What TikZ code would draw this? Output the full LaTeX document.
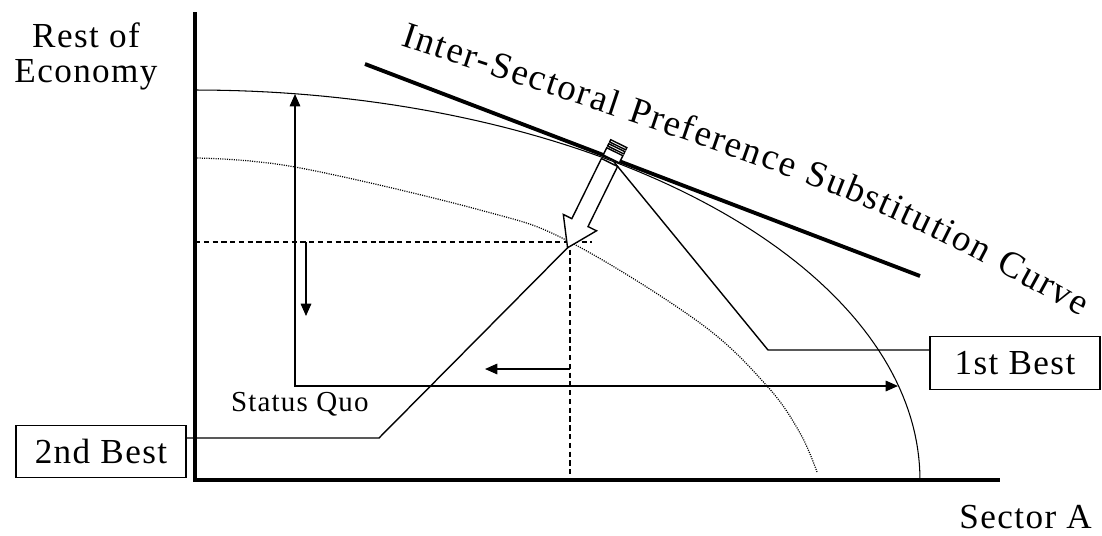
\documentclass[tikz,border=0pt]{standalone}
\usepackage{fontspec}
\setmainfont{Liberation Serif}
\newfontfamily\lsfont[LetterSpace=4]{Liberation Serif}
\newcommand\curvefont{\fontsize{21}{21}\selectfont}
\usetikzlibrary{arrows.meta,decorations.text}

\begin{document}
\begin{tikzpicture}[x=0.02cm, y=-0.02cm,
  every node/.style={font=\lsfont\fontsize{20}{20}\selectfont},
  bestbox/.style={draw, line width=0.8pt, inner sep=0pt, minimum width=3.4cm, minimum height=1.05cm},
  axis/.style={line width=2.8pt},
  guide/.style={line width=0.8pt},
  dashline/.style={line width=1pt, dash pattern=on 3pt off 2pt},
  >={Triangle[length=7pt,width=6pt]}]
  \useasboundingbox (0,0) rectangle (1102,535);

  % Axes
  \coordinate (origin) at (195,480);
  \coordinate (ytop) at (195,12);
  \coordinate (xend) at (1000,480);
  \draw[axis] (ytop) -- (origin) -- (xend);
  \node[align=center] (yname) at (86,56) {Rest of\\Economy};
  \node[anchor=base east] (xname) at (1098,528) {Sector A};

  % Frontiers
  \draw[line width=0.6pt] plot[domain=0:90, samples=80] ({195+725*sin(\x)}, {480-390*cos(\x)});
  \draw[line width=0.7pt, dash pattern=on 0.6pt off 0.7pt] plot[smooth, tension=0.6]
    coordinates {(195,158) (295,167) (480,210) (570,242) (700,323) (767,386) (800,433) (817,472)};

  % Substitution curve
  \draw[line width=2.2pt] (365,64) -- (920,276);
  \path[decorate, decoration={text along path, text align={fit to path},
    text={|\curvefont|Inter-Sectoral Preference Substitution Curve}}]
    (400,45) .. controls (872,201) .. (1080,316);

  \coordinate (fbpt) at (614,162);
  \coordinate (sqpt) at (570,242);

  % Dashed guides
  \draw[dashline] (origin |- sqpt) -- ([xshift=0.44cm]sqpt);
  \draw[dashline] ([yshift=0.2cm]sqpt) -- (sqpt |- origin);

  % Movement arrows
  \coordinate (ltop) at (295,94);
  \coordinate (lcorner) at (295,386);
  \coordinate (lend) at (898,386);
  \draw[guide, <->] (ltop) -- (lcorner) -- (lend);
  \draw[guide, ->] (306,242) -- (306,316);
  \draw[guide, ->] (sqpt |- 0,369) -- (485,369);

  % Striped arrow
  \begin{scope}[shift={(609.5,162.5)}, rotate=243.8, line width=0.8pt]
    \draw[fill=white] (-21,-9) rectangle (-18.5,9);
    \draw[fill=white] (-16.5,-9) rectangle (-14,9);
    \draw[fill=white] (-12,-9) rectangle (-4,9);
    \draw[fill=white] (0,-9) -- (67,-9) -- (67,-18.5) -- (95,0) -- (67,18.5) -- (67,9) -- (0,9) -- cycle;
    \coordinate (tip) at (95,0);
  \end{scope}

  % Labels
  \node[bestbox] (fb) at (1015,363) {1st Best};
  \node[bestbox] (sb) at (101,451.5) {2nd Best};
  \node[anchor=base west, font=\lsfont\fontsize{16.5}{18}\selectfont] (sq) at (225,411) {Status Quo};

  \coordinate (fbknee) at (768,350);
  \coordinate (sbknee) at (379,438);
  \draw[guide] (fbpt) -- (fbknee) -- (fbknee -| fb.west);
  \draw[guide] (tip) -- (sbknee) -- (sbknee -| sb.east);
\end{tikzpicture}
\end{document}
